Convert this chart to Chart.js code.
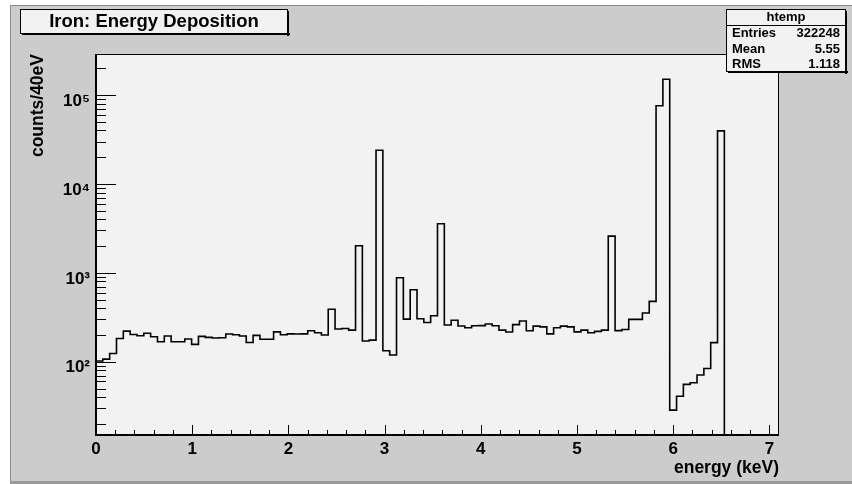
<!DOCTYPE html>
<html>
<head>
<meta charset="utf-8">
<script src="https://cdn.jsdelivr.net/npm/chart.js@4.4.0/dist/chart.umd.min.js"></script>
<style>
  html, body { margin: 0; padding: 0; background: #ffffff; }
  canvas { display: block; }
</style>
</head>
<body>
<canvas id="histo" width="852" height="484"></canvas>
<script>
// htemp: 100 bins from 0 to 7.1 keV
const nBins = 100;
const xMin = 0;
const xMax = 7.1;
const counts = [
  102, 107, 124, 183, 221, 203, 196, 209, 191, 168,
  195, 168, 168, 180, 157, 193, 188, 185, 186, 205,
  201, 195, 165, 198, 179, 179, 217, 201, 206, 205,
  206, 223, 212, 200, 390, 234, 237, 227, 2020, 171,
  175, 24000, 133, 119, 880, 302, 646, 305, 277, 329,
  3570, 259, 293, 253, 241, 254, 255, 266, 254, 227,
  216, 262, 287, 223, 252, 247, 206, 241, 252, 247,
  217, 227, 212, 220, 227, 2590, 224, 231, 300, 300,
  353, 478, 75900, 151000, 28.6, 41, 55.7, 58, 71, 84,
  164, 39600, 0, 0, 0, 0, 0, 0, 0, 0
];
const xTickLabels = [0, 1, 2, 3, 4, 5, 6, 7];
const yMin = 15;
const yMax = 2.9e5;
const decadeLabels = { 2: '10²', 3: '10³', 4: '10⁴', 5: '10⁵' };
const statNames = ['Entries', 'Mean', 'RMS'];
const statValues = ['322248', '5.55', '1.118'];

const FONT = "'Liberation Sans', Arial, Helvetica, sans-serif";

// step points: one per bin low edge, plus the upper edge of the last bin
const binW = (xMax - xMin) / nBins;
const points = counts.map((c, i) => ({ x: xMin + i * binW, y: c > 0 ? c : yMin }));
points.push({ x: xMax, y: counts[nBins - 1] > 0 ? counts[nBins - 1] : yMin });

// log ticks 1..9 x 10^n inside the range
const yTicks = [];
for (let e = 1; e <= 5; e++) {
  for (let d = 1; d <= 9; d++) {
    const v = d * Math.pow(10, e);
    if (v >= yMin && v <= yMax) yTicks.push(v);
  }
}

const rootPad = {
  id: 'rootPad',
  beforeDraw(chart) {
    const ctx = chart.ctx;
    const a = chart.chartArea;
    ctx.save();
    ctx.fillStyle = '#ffffff';
    ctx.fillRect(0, 0, chart.width, chart.height);
    ctx.fillStyle = '#cccccc';
    ctx.fillRect(10, 5, chart.width - 10, 477);
    ctx.strokeStyle = '#8a8a8a';
    ctx.lineWidth = 1;
    ctx.beginPath();
    ctx.moveTo(10.5, 482); ctx.lineTo(10.5, 5.5); ctx.lineTo(chart.width, 5.5);
    ctx.stroke();
    ctx.fillStyle = '#9a9a9a';
    ctx.fillRect(10, 481, chart.width - 10, 3);
    ctx.fillStyle = '#f2f2f2';
    ctx.fillRect(a.left, a.top, a.right - a.left, a.bottom - a.top);
    ctx.restore();
  },
  afterDatasetsDraw(chart) {
    const ctx = chart.ctx;
    const a = chart.chartArea;
    const xs = chart.scales.x;
    const ys = chart.scales.y;
    ctx.save();
    // frame
    ctx.strokeStyle = '#000';
    ctx.lineWidth = 1;
    ctx.strokeRect(a.left + 0.5, a.top + 0.5, a.right - a.left - 1, a.bottom - a.top);
    ctx.lineWidth = 2;
    ctx.beginPath();
    ctx.moveTo(a.left, a.top); ctx.lineTo(a.left, a.bottom); ctx.lineTo(a.right, a.bottom);
    ctx.stroke();
    // inward ticks
    ctx.lineWidth = 1;
    ctx.beginPath();
    yTicks.forEach(v => {
      const py = Math.round(ys.getPixelForValue(v)) + 0.5;
      const len = Number.isInteger(Math.log10(v)) ? 20 : 10;
      ctx.moveTo(a.left, py); ctx.lineTo(a.left + len, py);
    });
    for (let k = 0; k <= 35; k++) {
      const v = k * 0.2;
      const px = Math.round(xs.getPixelForValue(v)) + 0.5;
      const len = k % 5 === 0 ? 10 : 5;
      ctx.moveTo(px, a.bottom); ctx.lineTo(px, a.bottom - len);
    }
    ctx.stroke();

    // title pave
    drawPave(ctx, 20, 9, 268, 25);
    ctx.fillStyle = '#000';
    ctx.font = 'bold 18.5px ' + FONT;
    ctx.textAlign = 'center';
    ctx.textBaseline = 'middle';
    ctx.fillText('Iron: Energy Deposition', 154, 22);

    // stats pave
    drawPave(ctx, 726, 9, 120, 63);
    ctx.strokeStyle = '#000';
    ctx.lineWidth = 1;
    ctx.beginPath();
    ctx.moveTo(726, 25.5); ctx.lineTo(846, 25.5);
    ctx.stroke();
    ctx.font = 'bold 13px ' + FONT;
    ctx.textAlign = 'center';
    ctx.fillText('htemp', 786, 17.5);
    const rowY = [33, 49, 64.5];
    statNames.forEach((n, i) => {
      ctx.textAlign = 'left';
      ctx.fillText(n, 732, rowY[i]);
      ctx.textAlign = 'right';
      ctx.fillText(statValues[i], 840, rowY[i]);
    });
    ctx.restore();
  }
};

function drawPave(ctx, x, y, w, h) {
  ctx.fillStyle = '#f2f2f2';
  ctx.fillRect(x, y, w, h);
  ctx.strokeStyle = '#000';
  ctx.lineWidth = 1;
  ctx.strokeRect(x + 0.5, y + 0.5, w - 1, h - 1);
  ctx.fillStyle = '#000';
  ctx.fillRect(x + w - 1, y + 2, 2, h);
  ctx.fillRect(x + 2, y + h - 1, w, 2);
}

new Chart(document.getElementById('histo'), {
  type: 'line',
  data: {
    datasets: [{
      label: 'htemp',
      data: points,
      stepped: 'before',
      borderColor: '#000000',
      borderWidth: 1.6,
      pointRadius: 0,
      fill: false,
      tension: 0
    }]
  },
  options: {
    responsive: false,
    animation: false,
    devicePixelRatio: 1,
    layout: { padding: { left: 10, top: 54, right: 73, bottom: 0 } },
    plugins: {
      legend: { display: false },
      tooltip: { enabled: false }
    },
    scales: {
      x: {
        type: 'linear',
        min: xMin,
        max: xMax,
        afterFit(scale) { scale.height = 49; },
        afterBuildTicks(scale) { scale.ticks = xTickLabels.map(v => ({ value: v })); },
        grid: { display: false, drawTicks: false },
        border: { display: false },
        ticks: {
          autoSkip: false,
          maxRotation: 0,
          padding: 4,
          color: '#000',
          font: { family: FONT, size: 17, weight: 'bold' },
          callback: v => String(v)
        },
        title: {
          display: true,
          text: 'energy (keV)',
          align: 'end',
          color: '#000',
          padding: { top: 0, bottom: 5 },
          font: { family: FONT, size: 17.5, weight: 'bold' }
        }
      },
      y: {
        type: 'logarithmic',
        min: yMin,
        max: yMax,
        afterFit(scale) { scale.width = 86; },
        afterBuildTicks(scale) { scale.ticks = yTicks.map(v => ({ value: v })); },
        grid: { display: false, drawTicks: false },
        border: { display: false },
        ticks: {
          autoSkip: false,
          padding: 6,
          labelOffset: 6,
          color: '#000',
          font: { family: FONT, size: 17, weight: 'bold' },
          callback: v => {
            const e = Math.round(Math.log10(v));
            return Math.abs(Math.log10(v) - e) < 1e-9 && decadeLabels[e] ? decadeLabels[e] : '';
          }
        },
        title: {
          display: true,
          text: 'counts/40eV',
          align: 'end',
          color: '#000',
          padding: { top: 18, bottom: 0 },
          font: { family: FONT, size: 17.5, weight: 'bold' }
        }
      }
    }
  },
  plugins: [rootPad]
});
</script>
</body>
</html>
